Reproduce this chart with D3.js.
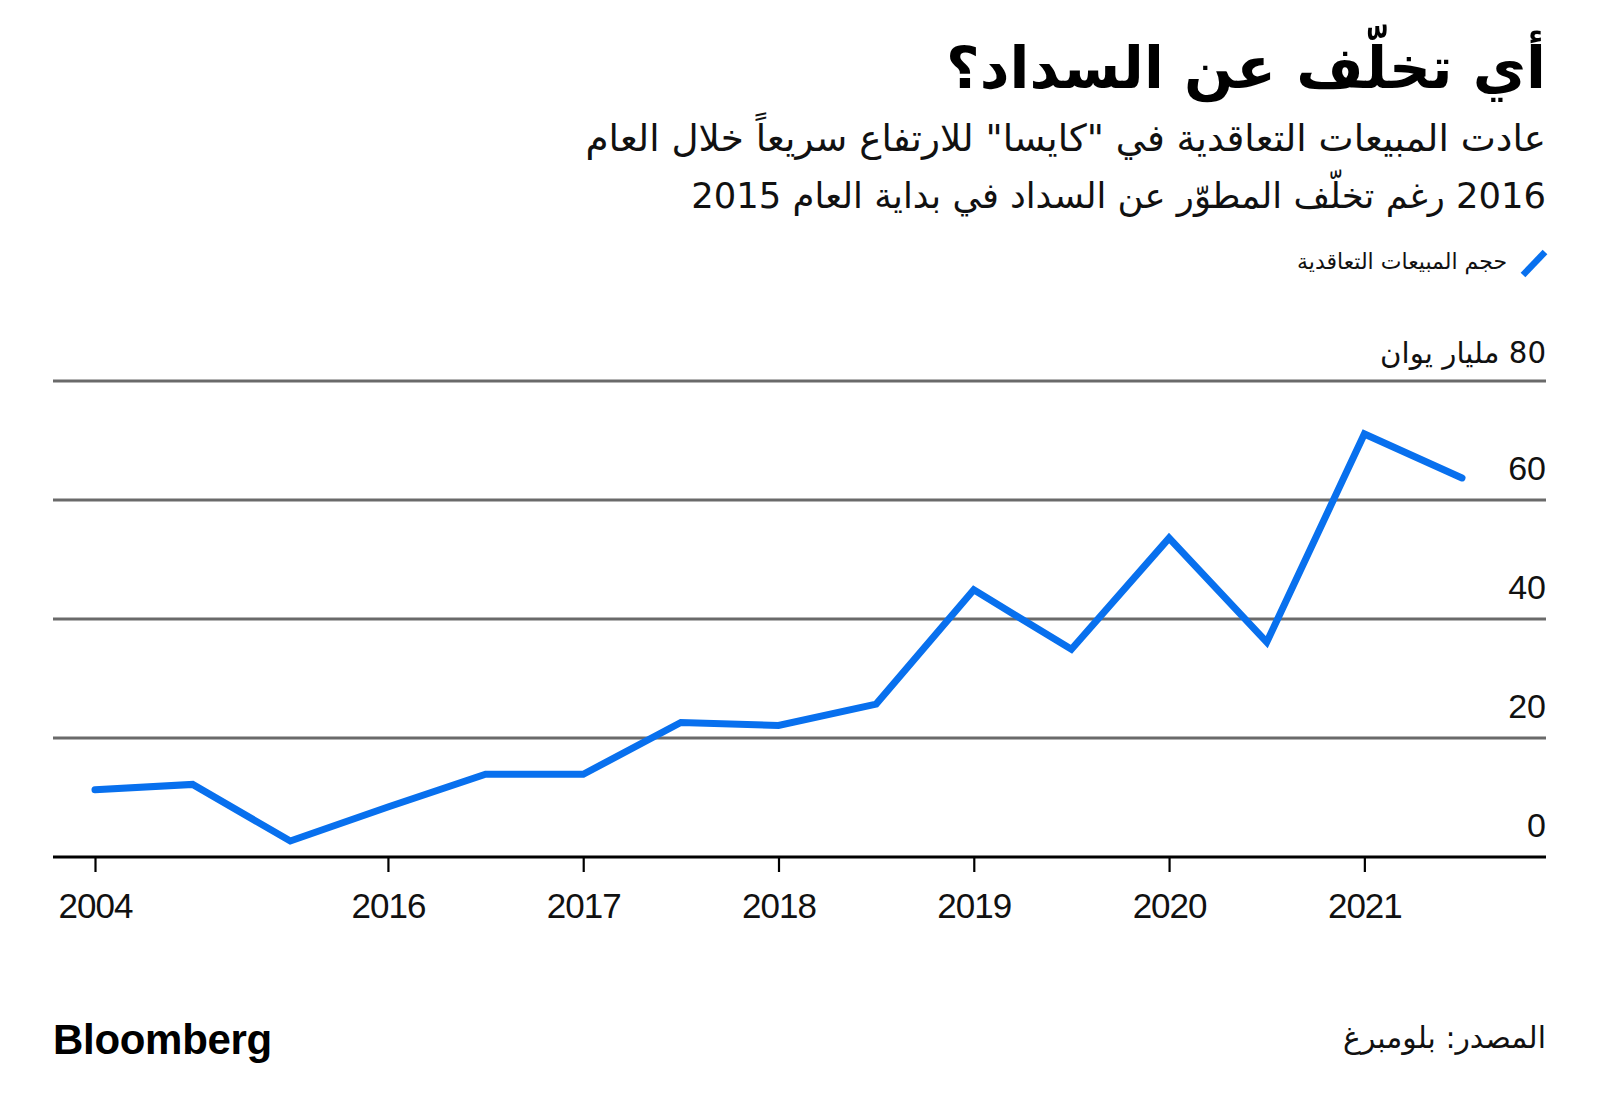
<!DOCTYPE html>
<html>
<head>
<meta charset="utf-8">
<script src="https://cdn.jsdelivr.net/npm/d3@7"></script>
<style>
  html, body { margin: 0; padding: 0; background: #fff; }
  svg { display: block; }
</style>
</head>
<body>
<svg id="chart" width="1600" height="1116"></svg>
<script>
// ---------- data ----------
const periods = ["2004", "2015-1", "2015-2", "2016-1", "2016-2", "2017-1", "2017-2",
                 "2018-1", "2018-2", "2019-1", "2019-2", "2020-1", "2020-2", "2021-1", "2021-2"];
const contractedSales = [11.3, 12.2, 2.7, 8.4, 13.9, 13.9, 22.6, 22.1, 25.7, 44.9, 34.9, 53.6, 36.1, 71.1, 63.7];
const xTickPeriods = ["2004", "2016-1", "2017-1", "2018-1", "2019-1", "2020-1", "2021-1"];
const xTickLabels  = ["2004", "2016", "2017", "2018", "2019", "2020", "2021"];
const yTicks = [0, 20, 40, 60, 80];
const yTopLabel = "80 مليار يوان";

const titleText = "أي تخلّف عن السداد؟";
const subtitleLines = [
  "عادت المبيعات التعاقدية في \"كايسا\" للارتفاع سريعاً خلال العام",
  "2016 رغم تخلّف المطوّر عن السداد في بداية العام 2015"
];
const legendLabel = "حجم المبيعات التعاقدية";
const sourceText = "المصدر: بلومبرغ";
const brandText = "Bloomberg";

// ---------- layout ----------
const W = 1600, H = 1116;
const left = 53, right = 1546;
const yTop = 381, yBottom = 857;
const arabicFont = "'DejaVu Sans', 'Noto Sans', sans-serif";
const latinFont = "'Liberation Sans', Arial, sans-serif";
const blue = "#0870ee";

const svg = d3.select("#chart");

const x = d3.scalePoint().domain(periods).range([95, 1462]);
const y = d3.scaleLinear().domain([0, 80]).range([yBottom, yTop]);

// helper: fit text width
function fitWidth(sel, target, maxSize) {
  const node = sel.node();
  const w = node.getComputedTextLength();
  const fs = parseFloat(sel.attr("font-size"));
  let nf = fs * target / w;
  if (maxSize) nf = Math.min(nf, maxSize);
  sel.attr("font-size", nf);
}

function rtlText(txt, xPos, yPos, size, weight, color) {
  return svg.append("text")
    .attr("x", xPos).attr("y", yPos)
    .attr("direction", "rtl")
    .attr("text-anchor", "start")
    .attr("font-family", arabicFont)
    .attr("font-size", size)
    .attr("font-weight", weight || "normal")
    .attr("fill", color || "#000")
    .text(txt);
}

// ---------- title & subtitle ----------
const t = rtlText(titleText, right, 88, 60, "bold");
fitWidth(t, 600, 72);

const s1 = rtlText(subtitleLines[0], right, 151, 34, "normal", "#111");
fitWidth(s1, 961, 40);
const s2 = rtlText(subtitleLines[1], right, 208, 34, "normal", "#111");
fitWidth(s2, 855, 40);

// ---------- legend ----------
svg.append("line")
  .attr("x1", 1523).attr("y1", 275)
  .attr("x2", 1545).attr("y2", 252)
  .attr("stroke", blue).attr("stroke-width", 6.5);
const lg = rtlText(legendLabel, 1507, 269, 18, "normal", "#111");
fitWidth(lg, 216, 22);

// ---------- grid ----------
const grid = svg.append("g");
grid.selectAll("line.grid")
  .data(yTicks.filter(d => d > 0))
  .join("line")
  .attr("class", "grid")
  .attr("x1", left).attr("x2", right)
  .attr("y1", d => y(d)).attr("y2", d => y(d))
  .attr("stroke", "#6a6a6a").attr("stroke-width", 2.8);

// y labels
svg.selectAll("text.ylab")
  .data(yTicks.filter(d => d < 80))
  .join("text")
  .attr("class", "ylab")
  .attr("x", right).attr("y", d => y(d) - 20)
  .attr("text-anchor", "end")
  .attr("font-family", latinFont)
  .attr("font-size", 34)
  .attr("fill", "#111")
  .text(d => d);
const topLab = rtlText(yTopLabel, right, y(80) - 18, 30, "normal", "#111");
fitWidth(topLab, 166, 36);

// ---------- x axis ----------
const xAxis = d3.axisBottom(x)
  .tickValues(xTickPeriods)
  .tickFormat((d, i) => xTickLabels[i])
  .tickSize(15)
  .tickPadding(10);
const gx = svg.append("g")
  .attr("transform", `translate(0,${yBottom})`)
  .call(xAxis);
gx.select(".domain").remove();
gx.selectAll(".tick line").attr("stroke", "#000").attr("stroke-width", 2.2);
gx.selectAll(".tick text")
  .attr("font-family", latinFont)
  .attr("font-size", 35)
  .attr("letter-spacing", -1)
  .attr("fill", "#111")
  .attr("dy", null)
  .attr("y", 61);
svg.append("line")
  .attr("x1", left).attr("x2", right)
  .attr("y1", yBottom).attr("y2", yBottom)
  .attr("stroke", "#000").attr("stroke-width", 3);

// ---------- line ----------
const line = d3.line()
  .x((d, i) => x(periods[i]))
  .y(d => y(d));
svg.append("path")
  .datum(contractedSales)
  .attr("d", line)
  .attr("fill", "none")
  .attr("stroke", blue)
  .attr("stroke-width", 7)
  .attr("stroke-linejoin", "miter")
  .attr("stroke-linecap", "round");

// ---------- footer ----------
svg.append("text")
  .attr("x", left).attr("y", 1054)
  .attr("font-family", latinFont)
  .attr("font-weight", "bold")
  .attr("font-size", 42)
  .attr("letter-spacing", -0.3)
  .attr("fill", "#000")
  .text(brandText);
const src = rtlText(sourceText, right, 1048, 26, "normal", "#111");
fitWidth(src, 203, 30);
</script>
</body>
</html>
